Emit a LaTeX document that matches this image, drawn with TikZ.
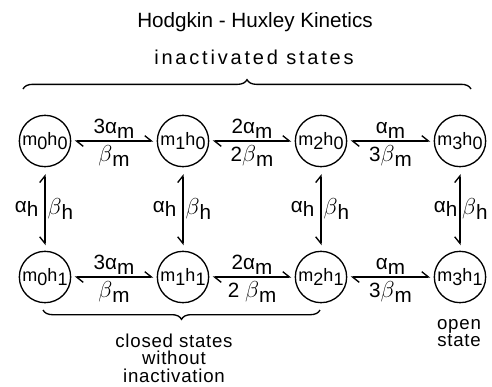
\documentclass[tikz,border=0pt]{standalone}
\usepackage{fontspec}
\setmainfont{Liberation Sans}
\usetikzlibrary{arrows.meta,decorations.pathreplacing}
\newcommand\sbs[1]{\raisebox{-0.4ex}{#1}}
\newcommand\bet{{\fontsize{17}{17}\selectfont$\beta$}}
\tikzset{
  st/.style={circle, draw, line width=1pt, minimum size=38.5pt, inner sep=0pt,
    font=\fontsize{13.5}{15}\selectfont},
  harp/.style={line width=1pt,
    {Straight Barb[left,length=5pt,width=8pt]}-{Straight Barb[left,length=5pt,width=8pt]},
    shorten <=2.5pt, shorten >=2.5pt},
  vharp/.style={line width=1pt,
    {Straight Barb[left,length=5pt,width=8pt]}-{Straight Barb[right,length=5pt,width=8pt]},
    shorten <=5pt, shorten >=4pt},
  lab/.style={font=\fontsize{15.5}{17}\selectfont, inner sep=0.5pt},
  brc/.style={decorate, line width=1pt},
  note/.style={align=center, font=\fontsize{14}{13}\selectfont\addfontfeatures{LetterSpace=4}}
}
\begin{document}
\begin{tikzpicture}[x=0.75pt,y=-0.75pt]
\useasboundingbox (0,0) rectangle (492,386);
% title
\node[font=\fontsize{15.5}{18}\selectfont] (title) at (255,22) {Hodgkin - Huxley Kinetics};
\node[font=\fontsize{15}{16}\selectfont\addfontfeatures{LetterSpace=14}] (inact) at (254,57) {inactivated states};
% states
\node[st] (a0) at (45,141) {m\sbs{0}h\sbs{0}};
\node[st] (a1) at (183,141) {m\sbs{1}h\sbs{0}};
\node[st] (a2) at (321,141) {m\sbs{2}h\sbs{0}};
\node[st] (a3) at (460,141) {m\sbs{3}h\sbs{0}};
\node[st] (b0) at (45,277) {m\sbs{0}h\sbs{1}};
\node[st] (b1) at (183,277) {m\sbs{1}h\sbs{1}};
\node[st] (b2) at (321,277) {m\sbs{2}h\sbs{1}};
\node[st] (b3) at (460,277) {m\sbs{3}h\sbs{1}};
% horizontal transitions
\draw[harp] (a0) -- node[lab,above=1pt]{3α\sbs{m}} node[lab,below=2.5pt]{\bet\sbs{m}} (a1);
\draw[harp] (a1) -- node[lab,above=1pt]{2α\sbs{m}} node[lab,below=2.5pt]{2\bet\sbs{m}} (a2);
\draw[harp] (a2) -- node[lab,above=1pt]{α\sbs{m}} node[lab,below=2.5pt]{3\bet\sbs{m}} (a3);
\draw[harp] (b0) -- node[lab,above=1pt]{3α\sbs{m}} node[lab,below=2.5pt]{\bet\sbs{m}} (b1);
\draw[harp] (b1) -- node[lab,above=1pt]{2α\sbs{m}} node[lab,below=2.5pt]{2 \bet\sbs{m}} (b2);
\draw[harp] (b2) -- node[lab,above=1pt]{α\sbs{m}} node[lab,below=2.5pt]{3\bet\sbs{m}} (b3);
% vertical transitions
\draw[vharp] (a0) -- node[lab,left=4pt]{α\sbs{h}} node[lab,right=1pt]{\bet\sbs{h}} (b0);
\draw[vharp] (a1) -- node[lab,left=4pt]{α\sbs{h}} node[lab,right=1pt]{\bet\sbs{h}} (b1);
\draw[vharp] (a2) -- node[lab,left=4pt]{α\sbs{h}} node[lab,right=1pt]{\bet\sbs{h}} (b2);
\draw[vharp] (a3) -- node[lab,left=1pt]{α\sbs{h}} node[lab,right=0.5pt]{\bet\sbs{h}} (b3);
% braces
\coordinate (tl) at (23,89);
\coordinate (tr) at (471,89);
\coordinate (bl) at (43,310);
\coordinate (br) at (320,310);
\draw[brc, decoration={brace, amplitude=7pt}] (tl) -- (tr);
\draw[brc, decoration={brace, amplitude=7pt, mirror}] (bl) -- (br);
% notes
\node[note] (closed) at (174,358) {closed states\\without\\inactivation};
\node[note] (open) at (459,333) {open\\state};
\end{tikzpicture}
\end{document}
